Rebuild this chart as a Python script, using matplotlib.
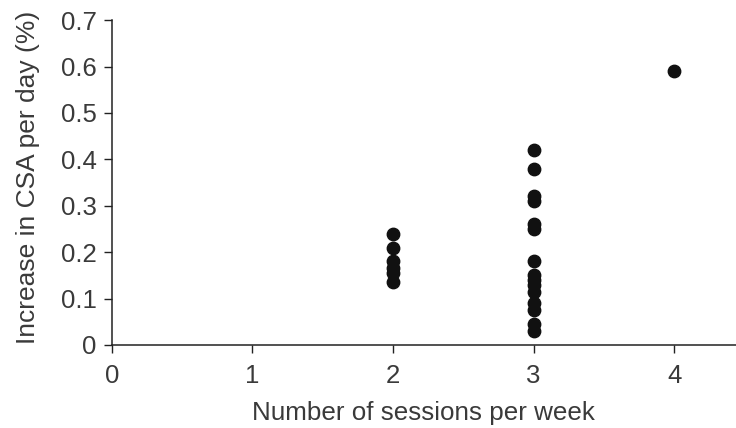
import matplotlib
matplotlib.use("Agg")
import matplotlib.pyplot as plt

sessions = [2, 2, 2, 2, 2, 2,
            3, 3, 3, 3, 3, 3, 3, 3, 3, 3, 3, 3, 3, 3, 3,
            4]
increase = [0.24, 0.21, 0.18, 0.165, 0.155, 0.135,
            0.42, 0.38, 0.32, 0.31, 0.26, 0.25, 0.18, 0.15, 0.14, 0.13, 0.115,
            0.09, 0.075, 0.045, 0.03,
            0.59]
xticks = [0, 1, 2, 3, 4]
yticks = [0, 0.1, 0.2, 0.3, 0.4, 0.5, 0.6, 0.7]
ytick_labels = ["0", "0.1", "0.2", "0.3", "0.4", "0.5", "0.6", "0.7"]

plt.rcParams['font.family'] = ['Liberation Sans', 'DejaVu Sans']
txt = "#3a3a3a"

fig = plt.figure(figsize=(7.36, 4.28), dpi=100)
ax = fig.add_axes([0.152, 0.194, 0.848, 0.759])
ax.scatter(sessions, increase, s=80, color="#111111", zorder=3, clip_on=False)
ax.set_xlim(0, 4.44)
ax.set_ylim(0, 0.7)
ax.set_xticks(xticks)
ax.set_xticklabels([str(v) for v in xticks])
ax.set_yticks(yticks)
ax.set_yticklabels(ytick_labels)
for s in ["top", "right"]:
    ax.spines[s].set_visible(False)
for s in ["left", "bottom"]:
    ax.spines[s].set_color("#222222")
    ax.spines[s].set_linewidth(1.1)
ax.tick_params(axis="both", direction="out", length=6, width=1.0, colors="#222222",
               labelsize=18.5, labelcolor=txt)
ax.tick_params(axis="x", pad=8)
ax.tick_params(axis="y", pad=5)
ax.set_xlabel("Number of sessions per week", fontsize=18.7, color=txt, labelpad=9)
ax.set_ylabel("Increase in CSA per day (%)", fontsize=19, color=txt)
ax.yaxis.set_label_coords(-0.115, 0.515)
fig.savefig("out.png", dpi=100)
